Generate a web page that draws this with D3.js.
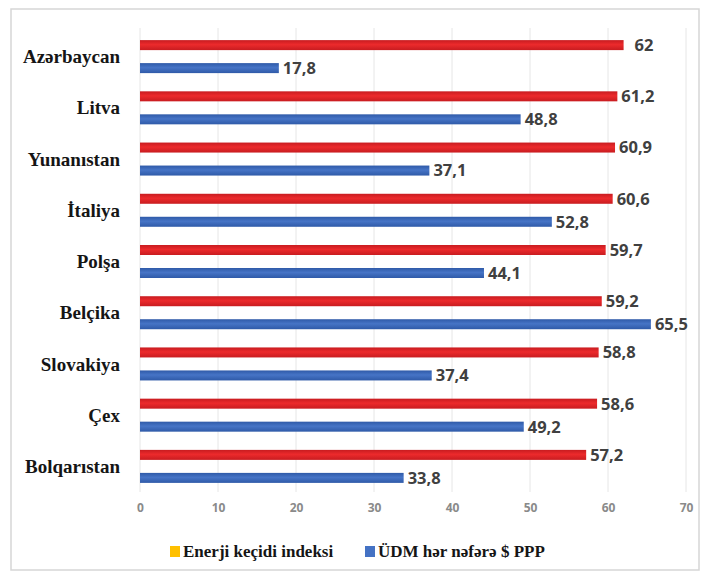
<!DOCTYPE html>
<html lang="az">
<head>
<meta charset="UTF-8" />
<title>Enerji keçidi indeksi və ÜDM</title>
<script src="https://d3js.org/d3.v7.min.js"></script>
<style>
  body { margin: 0; background: #fff; }
</style>
</head>
<body>
<svg id="chart"></svg>
<script>
// data
var countries = ["Azərbaycan", "Litva", "Yunanıstan", "İtaliya", "Polşa", "Belçika", "Slovakiya", "Çex", "Bolqarıstan"];
var energyIndex = [62, 61.2, 60.9, 60.6, 59.7, 59.2, 58.8, 58.6, 57.2];
var gdpPerCapita = [17.8, 48.8, 37.1, 52.8, 44.1, 65.5, 37.4, 49.2, 33.8];
var seriesNames = ["Enerji keçidi indeksi", "ÜDM hər nəfərə $ PPP"];
var xTicks = [0, 10, 20, 30, 40, 50, 60, 70];

var width = 701, height = 573;

var svg = d3.select("#chart")
    .attr("width", width)
    .attr("height", height);

// gradients for the bars (a bit of shading like the original)
var defs = svg.append("defs");
function makeGrad(id, dark, mid) {
  var g = defs.append("linearGradient").attr("id", id)
      .attr("x1", 0).attr("y1", 0).attr("x2", 0).attr("y2", 1);
  g.append("stop").attr("offset", "0%").attr("stop-color", dark);
  g.append("stop").attr("offset", "45%").attr("stop-color", mid);
  g.append("stop").attr("offset", "100%").attr("stop-color", dark);
}
makeGrad("gradRed", "#c81c20", "#ec2a2c");
makeGrad("gradBlue", "#2f5aa8", "#4674c6");
var fills = ["url(#gradRed)", "url(#gradBlue)"];

// frame
svg.append("rect")
    .attr("x", 11).attr("y", 9)
    .attr("width", 688).attr("height", 561)
    .attr("fill", "none")
    .attr("stroke", "#d6d6d6")
    .attr("stroke-width", 1.5);

var x = d3.scaleLinear().domain([0, 70]).range([140, 686]);

var y0 = d3.scaleBand().domain(countries).range([31, 492]);
var bw = y0.bandwidth();
var y1 = d3.scaleBand().domain([0, 1])
    .range([bw / 2 - 16.5, bw / 2 + 16.5])
    .paddingInner(13 / 23);

// gridlines
svg.append("g").selectAll("line")
    .data(xTicks)
    .enter().append("line")
    .attr("x1", d => x(d)).attr("x2", d => x(d))
    .attr("y1", 28).attr("y2", 492)
    .attr("stroke", "#e6e6e6")
    .attr("stroke-width", 1);

// x tick labels
var xAxis = svg.append("g")
    .attr("transform", "translate(0,502)")
    .call(d3.axisBottom(x).tickValues(xTicks).tickSize(0).tickPadding(1));
xAxis.select(".domain").remove();
xAxis.selectAll("text")
    .attr("fill", "#8a8a8a")
    .style("font-family", "'Open Sans', sans-serif")
    .style("font-weight", "bold")
    .style("font-size", "12px");

// country labels
var yAxis = svg.append("g")
    .attr("transform", "translate(120,0)")
    .call(d3.axisLeft(y0).tickSize(0).tickPadding(0));
yAxis.select(".domain").remove();
yAxis.selectAll("text")
    .attr("fill", "#151515")
    .attr("dy", "0.35em")
    .style("font-family", "'Liberation Serif', 'Times New Roman', serif")
    .style("font-weight", "bold")
    .style("font-size", "19px");

// bars
var rows = countries.map((c, i) => ({ country: c, values: [energyIndex[i], gdpPerCapita[i]] }));

var groups = svg.append("g").selectAll("g")
    .data(rows)
    .enter().append("g")
    .attr("transform", d => "translate(0," + y0(d.country) + ")");

var cells = groups.selectAll("g")
    .data(d => d.values.map((v, k) => ({ k: k, v: v })))
    .enter().append("g");

cells.append("rect")
    .attr("x", x(0))
    .attr("y", d => y1(d.k))
    .attr("width", d => x(d.v) - x(0))
    .attr("height", y1.bandwidth())
    .attr("fill", d => fills[d.k]);

cells.append("text")
    .attr("x", d => x(d.v) + (d.k === 0 && d.v === 62 ? 11 : 4))
    .attr("y", d => y1(d.k) + y1.bandwidth() / 2)
    .attr("dy", "0.36em")
    .attr("fill", "#404040")
    .style("font-family", "'Open Sans', sans-serif")
    .style("font-weight", "bold")
    .style("font-size", "16.5px")
    .text(d => String(d.v).replace(".", ","));

// legend
var legendColors = ["#ffc000", "#4472c4"];
var legendX = [170, 365];
var legend = svg.append("g").selectAll("g")
    .data(seriesNames)
    .enter().append("g")
    .attr("transform", (d, i) => "translate(" + legendX[i] + ",551)");
legend.append("rect")
    .attr("x", 0).attr("y", -5)
    .attr("width", 10).attr("height", 11)
    .attr("fill", (d, i) => legendColors[i]);
legend.append("text")
    .attr("x", 13)
    .attr("dy", "0.35em")
    .attr("fill", "#151515")
    .style("font-family", "'Liberation Serif', 'Times New Roman', serif")
    .style("font-weight", "bold")
    .style("font-size", "17px")
    .text(d => d);
</script>
</body>
</html>
